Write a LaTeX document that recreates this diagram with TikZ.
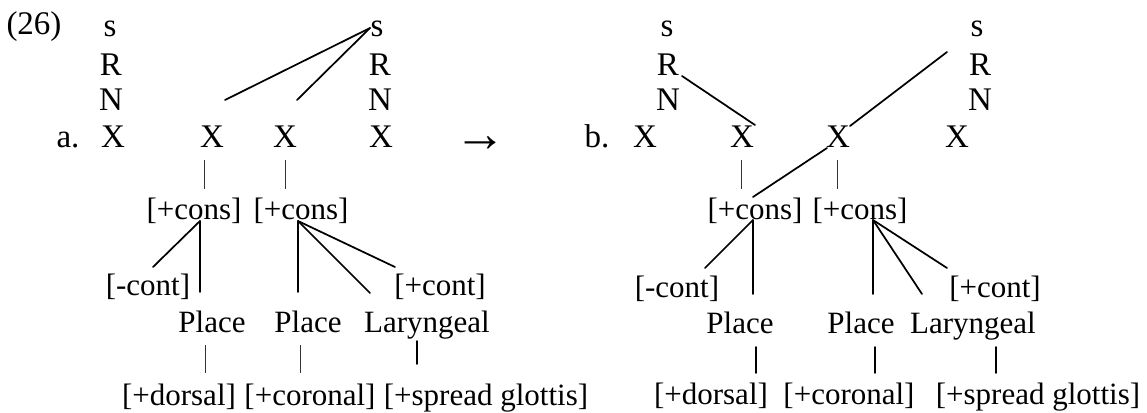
\documentclass[tikz,border=0pt]{standalone}
\usepackage{fontspec}
\setmainfont{Liberation Serif}
\begin{document}
\begin{tikzpicture}[x=0.75pt,y=-0.75pt,
  top/.style={font=\fontsize{24.75pt}{28pt}\selectfont,inner sep=0pt,anchor=base},
  feat/.style={font=\fontsize{23.25pt}{27pt}\selectfont,inner sep=0pt,anchor=base},
  link/.style={line width=1.3pt,line cap=round},
  bar/.style={line width=0.6pt,black!80}]
\useasboundingbox (0,0) rectangle (1147,412);

% ---------- (a) skeleton ----------
\node[top] (n26) at (34,34) {(26)};
\node[top] (sa1) at (110,36) {s};
\node[top] (ra1) at (111,75) {R};
\node[top] (na1) at (111,110) {N};
\node[top] (la)  at (68,147) {a.};
\node[top] (xa1) at (113,147) {X};
\node[top] (xa2) at (212,147) {X};
\node[top] (xa3) at (285,147) {X};
\node[top] (xa4) at (381,147) {X};
\node[top] (sa4) at (377,36) {s};
\node[top] (ra4) at (380,75) {R};
\node[top] (na4) at (380,110) {N};
\node[inner sep=0pt,anchor=base,font=\fontsize{39pt}{40pt}\selectfont\bfseries] (arr) at (480,151) {→};

% ---------- (a) features ----------
\node[feat] (ca1) at (194,219) {[+cons]};
\node[feat] (ca2) at (301,219) {[+cons]};
\node[feat] (mca) at (148,295) {[-cont]};
\node[feat] (pca) at (440,295) {[+cont]};
\node[feat] (pa1) at (212,332) {Place};
\node[feat] (pa2) at (308,332) {Place};
\node[feat] (lga) at (427,332) {Laryngeal};
\node[feat] (dra) at (179,405) {[+dorsal]};
\node[feat] (cra) at (310,405) {[+coronal]};
\node[feat] (sga) at (486,405) {[+spread glottis]};

% ---------- (b) skeleton ----------
\node[top] (lb)  at (597,147) {b.};
\node[top] (xb1) at (645,147) {X};
\node[top] (xb2) at (742,147) {X};
\node[top] (xb3) at (838,147) {X};
\node[top] (xb4) at (957,147) {X};
\node[top] (sb1) at (667,36) {s};
\node[top] (rb1) at (668,75) {R};
\node[top] (nb1) at (668,110) {N};
\node[top] (sb4) at (977,36) {s};
\node[top] (rb4) at (980,75) {R};
\node[top] (nb4) at (980,110) {N};

% ---------- (b) features ----------
\node[feat] (cb1) at (755,219) {[+cons]};
\node[feat] (cb2) at (860,219) {[+cons]};
\node[feat] (mcb) at (677,297) {[-cont]};
\node[feat] (pcb) at (995,297) {[+cont]};
\node[feat] (pb1) at (740,333) {Place};
\node[feat] (pb2) at (861,333) {Place};
\node[feat] (lgb) at (973,333) {Laryngeal};
\node[feat] (drb) at (711,404) {[+dorsal]};
\node[feat] (crb) at (849,404) {[+coronal]};
\node[feat] (sgb) at (1038,404) {[+spread glottis]};

% ---------- connection points ----------
% (a)
\coordinate (sa4w) at (370,28);
\coordinate (fa2) at (225,100);
\coordinate (fa3) at (297,100);
\coordinate (xa2b) at (204,160);  \coordinate (ca1t) at (204,189);
\coordinate (xa3b) at (285,160);  \coordinate (ca2t) at (285,189);
\coordinate (ja1) at (200,221);
\coordinate (mcat) at (153,267);
\coordinate (pa1t) at (200,292);
\coordinate (ja2) at (298,221);
\coordinate (pa2t) at (298,292);
\coordinate (lgat) at (370,293);
\coordinate (pcat) at (395,267);
\coordinate (pa1b) at (205,345); \coordinate (drat) at (205,373);
\coordinate (pa2b) at (300,345); \coordinate (crat) at (300,373);
\coordinate (lgab) at (417,341); \coordinate (sgat) at (417,364);
% (b)
\coordinate (rb1e) at (682,76);
\coordinate (xb2t) at (755,125);
\coordinate (fb4) at (947,52);
\coordinate (xb3t) at (850,126);
\coordinate (xb2b) at (741,160); \coordinate (cb1t) at (741,189);
\coordinate (xb3b) at (837,160); \coordinate (cb2t) at (837,189);
\coordinate (xb3l) at (827,148);
\coordinate (cb1r) at (753,197);
\coordinate (jb1) at (753,220);
\coordinate (mcbt) at (705,268);
\coordinate (pb1t) at (753,294);
\coordinate (jb2) at (873,220);
\coordinate (pb2t) at (873,294);
\coordinate (lgbt) at (922,294);
\coordinate (pcbt) at (947,268);
\coordinate (pb1b) at (756,347); \coordinate (drbt) at (756,373);
\coordinate (pb2b) at (875,347); \coordinate (crbt) at (875,373);
\coordinate (lgbb) at (996,347); \coordinate (sgbt) at (996,373);

% ---------- (a) lines ----------
\draw[link] (sa4w) -- (fa2);
\draw[link] (sa4w) -- (fa3);
\draw[bar] (xa2b) -- (ca1t);
\draw[bar] (xa3b) -- (ca2t);
\draw[link] (ja1) -- (mcat);
\draw[link] (ja1) -- (pa1t);
\draw[link] (ja2) -- (pa2t);
\draw[link] (ja2) -- (lgat);
\draw[link] (ja2) -- (pcat);
\draw[bar] (pa1b) -- (drat);
\draw[bar] (pa2b) -- (crat);
\draw[link] (lgab) -- (sgat);

% ---------- (b) lines ----------
\draw[link] (rb1e) -- (xb2t);
\draw[link] (fb4) -- (xb3t);
\draw[bar] (xb2b) -- (cb1t);
\draw[bar] (xb3b) -- (cb2t);
\draw[link] (xb3l) -- (cb1r);
\draw[link] (jb1) -- (mcbt);
\draw[link] (jb1) -- (pb1t);
\draw[link] (jb2) -- (pb2t);
\draw[link] (jb2) -- (lgbt);
\draw[link] (jb2) -- (pcbt);
\draw[link] (pb1b) -- (drbt);
\draw[link] (pb2b) -- (crbt);
\draw[link] (lgbb) -- (sgbt);
\end{tikzpicture}
\end{document}
